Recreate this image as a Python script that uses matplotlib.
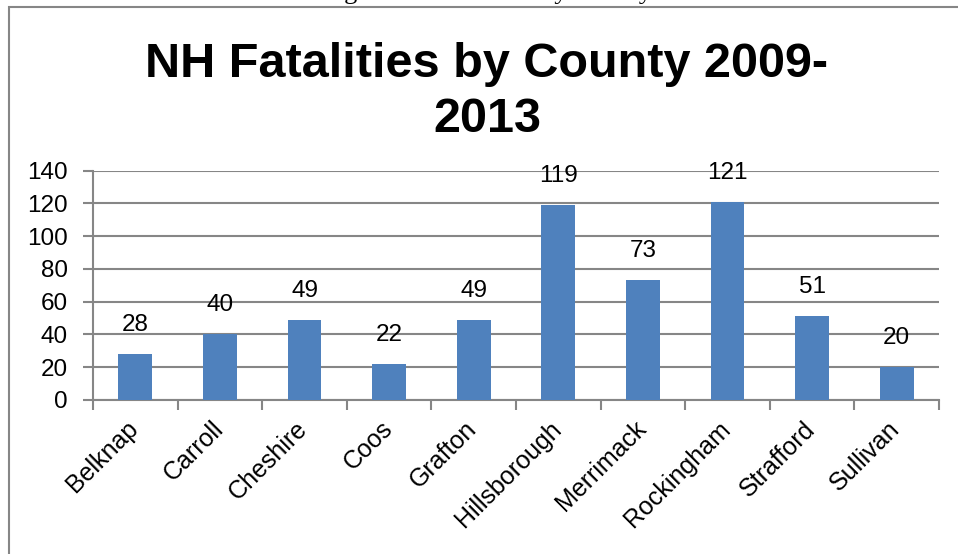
import numpy as np
import matplotlib
matplotlib.use("Agg")
import matplotlib.pyplot as plt
import matplotlib.transforms as mtransforms
from matplotlib.patches import Rectangle

# --- dados ---
condados = ["Belknap", "Carroll", "Cheshire", "Coos", "Grafton",
            "Hillsborough", "Merrimack", "Rockingham", "Strafford", "Sullivan"]
fatalidades = [28, 40, 49, 22, 49, 119, 73, 121, 51, 20]
y_ticks = [0, 20, 40, 60, 80, 100, 120, 140]

titulo_linhas = ["NH Fatalities by County 2009-", "2013"]
legenda_figura = "Figure 29  Fatalities by County"

COR_BARRA = "#4F81BD"
COR_EIXO = "#868686"
L, A = 958, 554  # tamanho em pixels

plt.rcParams["font.family"] = ["Liberation Sans", "DejaVu Sans"]

fig = plt.figure(figsize=(L / 100, A / 100), dpi=100)
ax = fig.add_axes([93 / L, 1 - 400 / A, (939 - 93) / L, (400 - 170.7) / A])

# moldura do grafico (cortada a direita e embaixo)
fig.patches.append(Rectangle((9 / L, -0.1), 1.2, 1 - 6.7 / A + 0.1,
                             transform=fig.transFigure, fill=False,
                             edgecolor=COR_EIXO, linewidth=1.5))

# legenda da figura, quase toda fora da imagem
fig.text(487 / L, 1 + 0.5 / A, legenda_figura, family="Liberation Serif",
         fontsize=19, ha="center", va="baseline")

x = np.arange(len(condados))
ax.bar(x, fatalidades, width=0.4, color=COR_BARRA, zorder=3)

for xi, v in zip(x, fatalidades):
    ax.annotate(str(v), (xi, v), textcoords="offset points", xytext=(0, 13),
                ha="center", va="bottom", fontsize=17.5)

ax.set_xlim(-0.5, len(condados) - 0.5)
ax.set_ylim(0, 140)
ax.set_yticks(y_ticks)
ax.set_xticks(x)
ax.set_xticklabels(condados, rotation=45, ha="right", rotation_mode="anchor",
                   fontsize=18)
ax.set_xticks(np.arange(-0.5, len(condados)), minor=True)
ax.tick_params(axis="x", which="major", length=0, pad=12)
ax.tick_params(axis="x", which="minor", length=7, color=COR_EIXO, width=1.5)
ax.tick_params(axis="y", length=7, color=COR_EIXO, width=1.5, labelsize=17.5, pad=11)

# desloca os rotulos inclinados um pouco para a esquerda
desloc = mtransforms.ScaledTranslation(-9 / 100, 0, fig.dpi_scale_trans)
for rotulo in ax.get_xticklabels():
    rotulo.set_transform(rotulo.get_transform() + desloc)

ax.grid(axis="y", color=COR_EIXO, linewidth=1.5, zorder=0)
ax.set_axisbelow(True)
for lado in ["top", "right"]:
    ax.spines[lado].set_visible(False)
for lado in ["left", "bottom"]:
    ax.spines[lado].set_color(COR_EIXO)
    ax.spines[lado].set_linewidth(1.5)

# titulo em duas linhas, posicionadas pela linha de base
for linha, base in zip(titulo_linhas, [77, 132]):
    fig.text(487 / L, 1 - base / A, linha, ha="center", va="baseline",
             fontsize=35, fontweight="bold")

plt.savefig("out.png", dpi=100)
